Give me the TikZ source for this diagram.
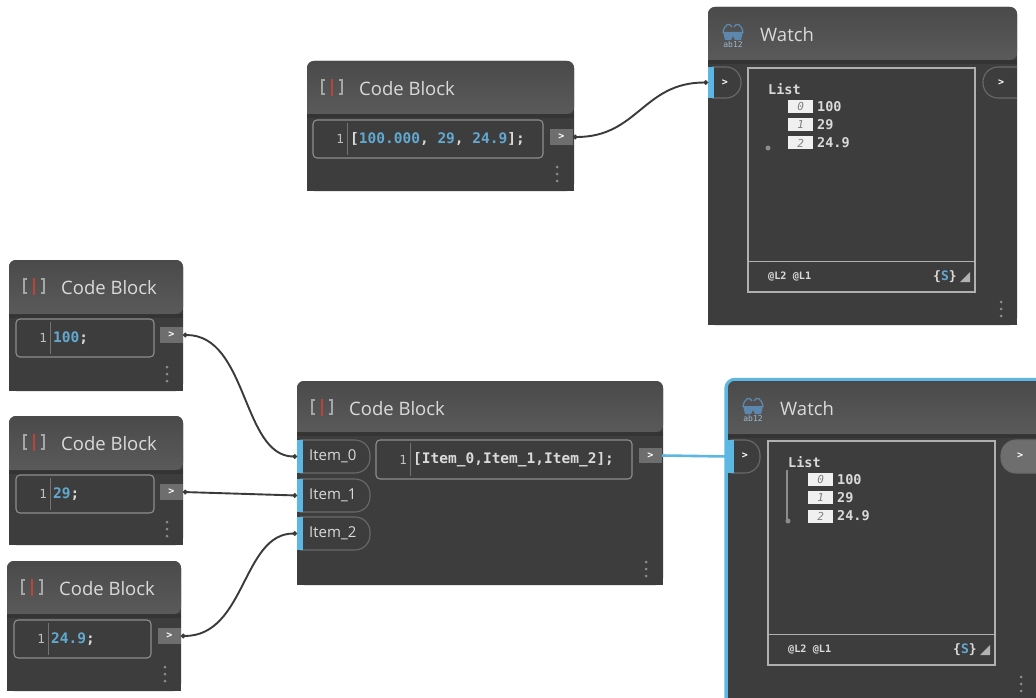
\documentclass[tikz,border=0pt]{standalone}
\usepackage{fontspec}
\setmainfont{Open Sans}
\newfontfamily\monof{DejaVu Sans Mono}
\usetikzlibrary{arrows.meta}
\definecolor{bodyc}{HTML}{3D3D3D}
\definecolor{headtop}{HTML}{4A4A4A}
\definecolor{headbot}{HTML}{5A5A5A}
\definecolor{boxc}{HTML}{8E8E8E}
\definecolor{framec}{HTML}{B0B0B0}
\definecolor{portc}{HTML}{6E6E6E}
\definecolor{bluec}{HTML}{5DB7E3}
\definecolor{numc}{HTML}{62A9D2}
\definecolor{txtc}{HTML}{DADADA}
\definecolor{wirec}{HTML}{3A3A3A}
\definecolor{iconc}{HTML}{5E87AD}
\definecolor{redmark}{HTML}{B8443C}
\tikzset{
  bodynode/.style={anchor=north west,inner sep=0,outer sep=0,fill=bodyc,rounded corners=7pt},
  titletext/.style={anchor=west,inner sep=0,text=txtc,font=\fontsize{18.5}{20}\selectfont},
  monotext/.style={anchor=west,inner sep=0,text=txtc,text height=10pt,text depth=2pt,font=\monof\bfseries\fontsize{14.5}{16}\selectfont},
  listtext/.style={anchor=west,inner sep=0,text=txtc,font=\monof\bfseries\fontsize{13.5}{15}\selectfont},
  itemtext/.style={anchor=west,inner sep=0,text=txtc,font=\fontsize{15}{17}\selectfont},
  smalltext/.style={anchor=west,inner sep=0,text=txtc,font=\monof\bfseries\fontsize{10.2}{12}\selectfont},
  gutter/.style={anchor=east,inner sep=0,text=black!25,font=\monof\fontsize{12.5}{14}\selectfont},
  outport/.style={anchor=north west,inner sep=0,outer sep=0,fill=portc,text=white,font=\monof\bfseries\fontsize{10}{12}\selectfont},
  strip/.style={anchor=north west,inner sep=0,outer sep=0,fill=bluec,minimum width=6pt},
  portline/.style={draw=boxc!75!black,line width=1.1pt},
  chevron/.style={inner sep=0,text=white,font=\monof\bfseries\fontsize{10}{12}\selectfont},
  wire/.style={draw=wirec,line width=1.9pt,{Circle[length=4.5pt,width=4.5pt]}-{Circle[length=4.5pt,width=4.5pt]}},
  bluewire/.style={draw=bluec,line width=2.6pt},
  idxbox/.style={anchor=west,inner sep=0,fill=black!6,minimum width=25pt,minimum height=13pt,text=black!50,font=\monof\itshape\fontsize{11}{12}\selectfont},
  dotc/.style={fill=black!45}
}
\newcommand\nodeframe[6]{
  \node[bodynode,minimum width=#4pt,minimum height=#5pt] (#1) at (#2,#3) {};
  \fill[bodyc] (#2,#3+20) rectangle (#2+#4,#3+#5);
  \path[rounded corners=7pt,top color=headtop,bottom color=headbot] (#2,#3+#6) -- (#2,#3) -- (#2+#4,#3) -- (#2+#4,#3+#6) [sharp corners] -- cycle;
  \fill[black!85,opacity=.35] (#2,#3+#6) rectangle (#2+#4,#3+#6+4);
}
\newcommand\threedots[2]{
  \foreach \d in {0,7,14}{\fill[dotc] (#1,#2+\d) circle (1.5);}
}
\newcommand\cbicon[2]{
  \draw[black!35,line width=1.4pt] (#1+3,#2) -- (#1,#2) -- (#1,#2+14) -- (#1+3,#2+14);
  \draw[black!35,line width=1.4pt] (#1+17,#2) -- (#1+20,#2) -- (#1+20,#2+14) -- (#1+17,#2+14);
  \draw[draw=redmark,line width=2pt] (#1+9.5,#2-1) -- (#1+9.5,#2+16);
}
\newcommand\codeblock[6]{
  \nodeframe{#1}{#2}{#3}{#4}{#5}{#6}
  \cbicon{#2+15}{#3+19}
  \node[titletext] (#1title) at (#2+52,#3+27.3) {Code Block};
}
\newcommand\codebox[6]{
  \node[anchor=north west,inner sep=0,outer sep=0,draw=boxc,line width=1.1pt,rounded corners=4pt,minimum width=#4pt,minimum height=#5pt] (#1) at (#2,#3) {};
  \draw[black!55,line width=.6pt] (#2+34,#3+3) -- (#2+34,#3+#5-3);
  \node[gutter] (#1n) at (#2+31,#3+#5/2) {1};
  \node[monotext] (#1t) at (#2+37,#3+#5/2) {#6};
}
\newcommand\wicon[2]{
  \draw[iconc,line width=1.3pt] (#1+1,#2+11) .. controls (#1+2,#2+2) and (#1+8,#2) .. (#1+10,#2+5);
  \draw[iconc,line width=1.3pt] (#1+21,#2+11) .. controls (#1+20,#2+2) and (#1+14,#2) .. (#1+12,#2+5);
  \fill[iconc] (#1+1,#2+10) -- (#1+21,#2+10) -- (#1+19,#2+18) -- (#1+13,#2+18) -- (#1+11,#2+14) -- (#1+9,#2+18) -- (#1+3,#2+18) -- cycle;
}
\newcommand\watchframe[5]{
  \nodeframe{#1}{#2}{#3}{#4}{#5}{53}
  \wicon{#2+14}{#3+15}
  \node[inner sep=0,text=iconc!60!white,font=\monof\fontsize{8}{9}\selectfont] (#1ab) at (#2+25,#3+38) {ab12};
  \node[titletext] (#1title) at (#2+52,#3+27.3) {Watch};
}
\newcommand\watchinner[3]{
  \node[anchor=north west,inner sep=0,outer sep=0,draw=framec,line width=1.3pt,minimum width=227pt,minimum height=224pt] (#1in) at (#2,#3) {};
  \draw[framec,line width=1.3pt] (#1in.west |- 0,#3+193.5) -- (#1in.east |- 0,#3+193.5);
  \node[listtext] (#1list) at (#2+20,#3+21) {List};
  \node[idxbox] (#1i0) at (#2+40,#3+38.5) {0};
  \node[idxbox] (#1i1) at (#2+40,#3+56.5) {1};
  \node[idxbox] (#1i2) at (#2+40,#3+75) {2};
  \node[listtext] (#1v0) at (#2+69,#3+38.5) {100};
  \node[listtext] (#1v1) at (#2+69,#3+56.5) {29};
  \node[listtext] (#1v2) at (#2+69,#3+75) {24.9};
  \fill[black!45] (#2+20,#3+80) circle (2.5);
  \node[smalltext] (#1lev) at (#2+20,#3+209) {@L2 @L1};
  \node[anchor=west,inner sep=0,text=txtc,font=\monof\bfseries\fontsize{13}{15}\selectfont] (#1s) at (#2+185,#3+209) {\{\textcolor{numc}{S}\}};
  \fill[black!30] (#2+212,#3+214) -- (#2+222,#3+214) -- (#2+222,#3+204) -- cycle;
}
\begin{document}
\begin{tikzpicture}[x=1pt,y=-1pt]
\useasboundingbox (0,0) rectangle (1036,698);
\clip (0,0) rectangle (1036,698);
\fill[white] (0,0) rectangle (1036,698);

\codeblock{cbt}{307}{61}{267}{130}{53}
\codebox{cbtbox}{313}{120}{230}{38}{[\textcolor{numc}{100.000}, \textcolor{numc}{29}, \textcolor{numc}{24.9}];}
\node[outport,minimum width=23pt,minimum height=16pt] (cbtout) at (550,129) {>};
\threedots{557}{167}

\codeblock{cba}{9}{260}{174}{131}{54}
\codebox{cbabox}{16}{319}{138}{38}{\textcolor{numc}{100};}
\node[outport,minimum width=23pt,minimum height=16pt] (cbaout) at (160,327) {>};
\threedots{167}{367}

\codeblock{cbb}{9}{416}{174}{129}{54}
\codebox{cbbbox}{16}{475}{138}{38}{\textcolor{numc}{29};}
\node[outport,minimum width=23pt,minimum height=16pt] (cbbout) at (160,484) {>};
\threedots{167}{522}

\codeblock{cbc}{7}{561}{174}{130}{53}
\codebox{cbcbox}{14}{620}{137}{38}{\textcolor{numc}{24.9};}
\node[outport,minimum width=23pt,minimum height=16pt] (cbcout) at (158,628) {>};
\threedots{165}{667}

\codeblock{cbm}{297}{381}{366}{204}{51}
\foreach \n/\yy in {0/440,1/479,2/517}{
  \draw[portline,rounded corners=15pt] (300,\yy) -- (370,\yy) -- (370,\yy+33) -- (300,\yy+33);
  \node[strip,minimum height=33pt] (item\n) at (297,\yy) {};
  \node[itemtext] (item\n t) at (309,\yy+16.5) {Item\_\n};
}
\codebox{cbmbox}{376}{440}{256}{39}{[Item\_0,Item\_1,Item\_2];}
\node[outport,minimum width=23pt,minimum height=15pt] (cbmout) at (639,448) {>};
\threedots{646}{562}

\watchframe{wa}{708}{7}{309}{318}
\watchinner{wa}{748}{68}
\draw[portline,rounded corners=15pt] (712,67) -- (741,67) -- (741,98) -- (712,98);
\node[strip,minimum height=31pt] (wain) at (708,67) {};
\node[chevron] (waic) at (725,83) {>};
\draw[portline,rounded corners=15pt] (1017,67) -- (983,67) -- (983,98) -- (1017,98);
\node[chevron] (waoc) at (1001,83) {>};
\threedots{1001}{302}

\draw[bluec,line width=3.5pt,rounded corners=9pt] (726,704) -- (726,379.5) -- (1050,379.5);
\watchframe{wb}{728}{381}{320}{330}
\watchinner{wb}{768}{441}
\draw[black!45,line width=1.2pt] (787,470) -- (787,521);
\draw[portline,rounded corners=15pt] (731,440) -- (760,440) -- (760,473) -- (731,473);
\node[strip,minimum height=33pt] (wbin) at (728,440) {};
\node[chevron] (wbic) at (745,456) {>};
\path[draw=boxc!75!black,fill=portc,line width=1.1pt,rounded corners=15pt] (1045,440) -- (1001,440) -- (1001,473) -- (1045,473);
\node[chevron] (wboc) at (1020,456) {>};
\threedots{1021}{677}

\draw[wire] (cbtout.east) .. controls +(65,0) and +(-65,0) .. (wain.west);
\draw[wire] (cbaout.east) .. controls +(65,0) and +(-55,0) .. (item0.west);
\draw[wire] (cbbout.east) -- (item1.west);
\draw[wire] (cbcout.east) .. controls +(65,0) and +(-55,0) .. (item2.west);
\draw[bluewire] (cbmout.east) -- (wbin.west);
\end{tikzpicture}
\end{document}
